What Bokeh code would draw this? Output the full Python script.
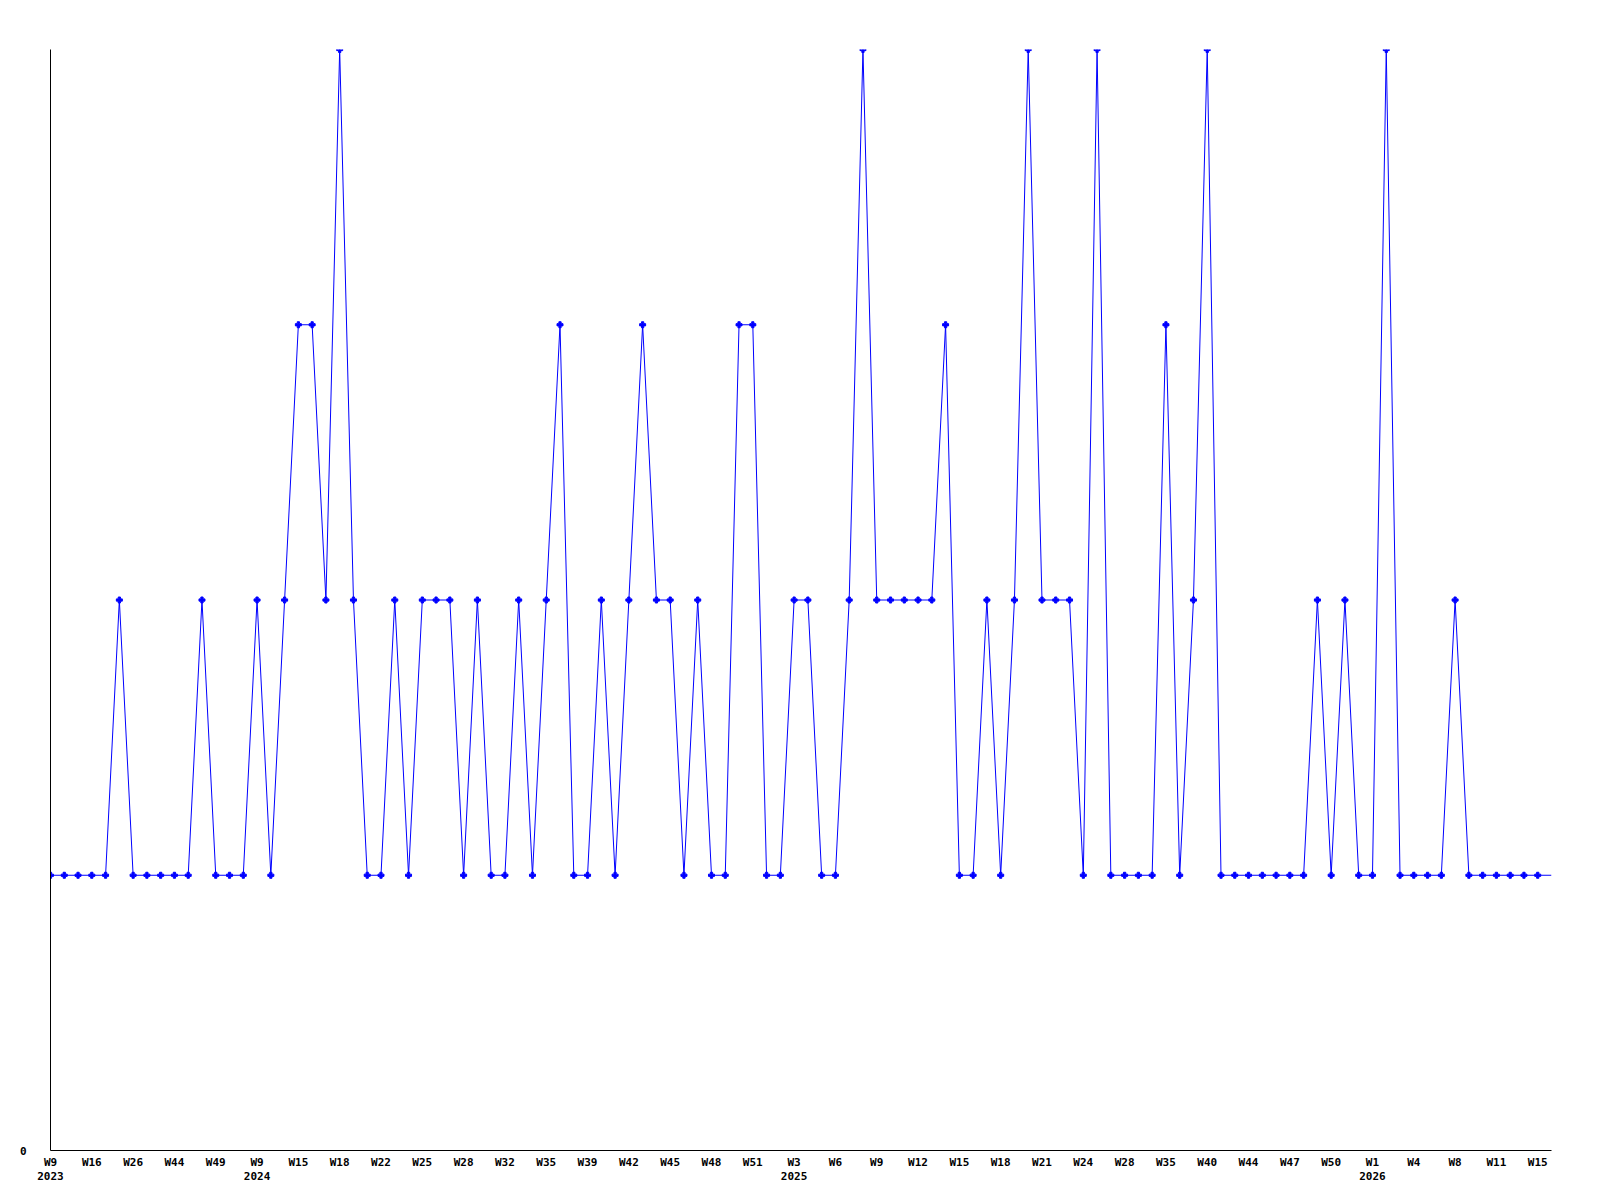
from bokeh.plotting import figure
from bokeh.models import FixedTicker, LinearAxis, Range1d
from bokeh.embed import file_html
from bokeh.resources import INLINE

# weekly values (one point per reported week)
values = [1, 1, 1, 1, 1, 2, 1, 1, 1, 1,
          1, 2, 1, 1, 1, 2, 1, 2, 3, 3,
          2, 4, 2, 1, 1, 2, 1, 2, 2, 2,
          1, 2, 1, 1, 2, 1, 2, 3, 1, 1,
          2, 1, 2, 3, 2, 2, 1, 2, 1, 1,
          3, 3, 1, 1, 2, 2, 1, 1, 2, 4,
          2, 2, 2, 2, 2, 3, 1, 1, 2, 1,
          2, 4, 2, 2, 2, 1, 4, 1, 1, 1,
          1, 3, 1, 2, 4, 1, 1, 1, 1, 1,
          1, 1, 2, 1, 2, 1, 1, 4, 1, 1,
          1, 1, 2, 1, 1, 1, 1, 1, 1, 1]
x = list(range(len(values)))

# tick labels (every third week shown)
week_labels = ["W9", "W16", "W26", "W44", "W49", "W9", "W15", "W18", "W22", "W25",
               "W28", "W32", "W35", "W39", "W42", "W45", "W48", "W51", "W3", "W6",
               "W9", "W12", "W15", "W18", "W21", "W24", "W28", "W35", "W40", "W44",
               "W47", "W50", "W1", "W4", "W8", "W11", "W15"]
week_ticks = [3 * i for i in range(len(week_labels))]
year_labels = ["2023", "2024", "2025", "2026"]
year_ticks = [0, 15, 54, 96]

FONT = "DejaVu Sans Mono"

p = figure(frame_width=1501, frame_height=1101, output_backend="svg", toolbar_location=None,
           x_range=Range1d(0, len(values) - 1), y_range=Range1d(0, 4),
           min_border_left=50, min_border_right=33, min_border_top=49, min_border_bottom=34,
           x_axis_location=None, y_axis_location=None)
p.outline_line_color = None
p.grid.visible = False

p.line(x, values, line_color="#0000FF", line_width=1)
p.scatter(x[:-1], values[:-1], marker="plus", size=6, color="#0000FF")


def style(ax, standoff):
    ax.major_tick_line_color = None
    ax.major_tick_out = 0
    ax.major_tick_in = 0
    ax.minor_tick_line_color = None
    ax.minor_tick_out = 0
    ax.major_label_standoff = standoff
    ax.major_label_text_font = FONT
    ax.major_label_text_font_style = "bold"
    ax.major_label_text_font_size = "11px"
    ax.major_label_text_color = "black"


yax = LinearAxis(ticker=FixedTicker(ticks=[0]))
style(yax, 24)
yax.axis_line_color = "black"
p.add_layout(yax, "left")

xax = LinearAxis(ticker=FixedTicker(ticks=week_ticks),
                 major_label_overrides={t: l for t, l in zip(week_ticks, week_labels)})
style(xax, 5)
xax.axis_line_color = "black"
p.add_layout(xax, "below")

yrax = LinearAxis(ticker=FixedTicker(ticks=year_ticks),
                  major_label_overrides={t: l for t, l in zip(year_ticks, year_labels)})
style(yrax, 0)
yrax.axis_line_color = None
p.add_layout(yrax, "below")

open("out.html", "w").write(file_html(p, INLINE))
